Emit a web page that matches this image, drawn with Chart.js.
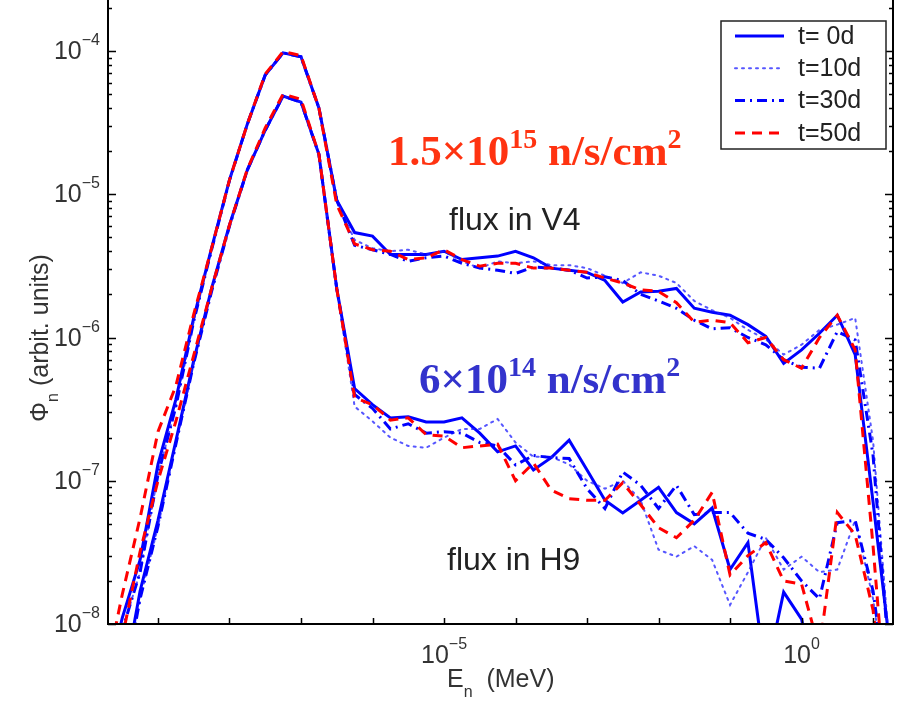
<!DOCTYPE html>
<html>
<head>
<meta charset="utf-8">
<script src="https://cdn.jsdelivr.net/npm/chart.js@4.4.1/dist/chart.umd.min.js"></script>
<style>
  html, body { margin: 0; padding: 0; background: #fff; }
</style>
</head>
<body>
<canvas id="flux" width="899" height="701"></canvas>
<script>
// neutron energy bins (MeV), quarter-decade grid
const energies = [
  1.78e-10, 3.16e-10, 5.62e-10, 1e-9, 1.78e-9, 3.16e-9, 5.62e-9, 1e-8, 1.78e-8,
  3.16e-8, 5.62e-8, 1e-7, 1.78e-7, 3.16e-7, 5.62e-7, 1e-6, 1.78e-6, 3.16e-6,
  5.62e-6, 1e-5, 1.78e-5, 3.16e-5, 5.62e-5, 1e-4, 1.78e-4, 3.16e-4, 5.62e-4,
  1e-3, 1.78e-3, 3.16e-3, 5.62e-3, 1e-2, 1.78e-2, 3.16e-2, 5.62e-2, 0.1, 0.178,
  0.316, 0.562, 1, 1.78, 3.16, 5.62, 10, 17.8
];

// flux in V4
const v4T0 = [
  3.2e-9, 1.1e-8, 2.8e-8, 1.3e-7, 3.7e-7, 1.37e-6, 4.2e-6, 1.26e-5, 3.1e-5,
  6.8e-5, 9.7e-5, 9.1e-5, 4.0e-5, 9.1e-6, 5.4e-6, 5.1e-6, 3.8e-6, 3.8e-6,
  3.8e-6, 4.0e-6, 3.5e-6, 3.6e-6, 3.7e-6, 4.0e-6, 3.6e-6, 3.05e-6, 2.95e-6,
  2.85e-6, 2.5e-6, 1.77e-6, 2.08e-6, 2.1e-6, 2.2e-6, 1.6e-6, 1.5e-6, 1.43e-6,
  1.23e-6, 1.02e-6, 6.6e-7, 8.2e-7, 1.07e-6, 1.43e-6, 7.6e-7, 7.1e-8, 6e-9
];
const v4T10 = [
  3.0e-9, 9e-9, 2.3e-8, 1.1e-7, 3.3e-7, 1.3e-6, 4.1e-6, 1.25e-5, 3.1e-5,
  6.8e-5, 9.7e-5, 9.1e-5, 4.0e-5, 9.1e-6, 4.8e-6, 4.2e-6, 4.0e-6, 4.1e-6,
  3.8e-6, 4.0e-6, 3.4e-6, 3.05e-6, 3.4e-6, 3.3e-6, 3.4e-6, 3.2e-6, 3.2e-6,
  3.05e-6, 2.7e-6, 2.4e-6, 2.85e-6, 2.7e-6, 2.4e-6, 1.8e-6, 1.55e-6, 1.37e-6,
  1.13e-6, 9.7e-7, 7.6e-7, 8.9e-7, 1.13e-6, 1.23e-6, 1.37e-6, 1.9e-7, 5e-9
];
const v4T30 = [
  3.0e-9, 9e-9, 2.3e-8, 1.1e-7, 3.3e-7, 1.3e-6, 4.1e-6, 1.25e-5, 3.1e-5,
  6.8e-5, 9.7e-5, 9.1e-5, 4.0e-5, 9.1e-6, 4.4e-6, 4.1e-6, 3.8e-6, 3.4e-6,
  3.6e-6, 3.7e-6, 3.3e-6, 3.05e-6, 2.95e-6, 2.8e-6, 3.1e-6, 3.05e-6, 2.95e-6,
  2.6e-6, 2.65e-6, 2.5e-6, 2.0e-6, 1.8e-6, 1.6e-6, 1.32e-6, 1.15e-6, 1.17e-6,
  1.0e-6, 8.9e-7, 7.0e-7, 6.2e-7, 6.1e-7, 1.1e-6, 9.6e-7, 1.5e-7, 4e-9
];
const v4T50 = [
  4e-9, 1.6e-8, 5.5e-8, 2.2e-7, 4.6e-7, 1.45e-6, 4.2e-6, 1.26e-5, 3.1e-5,
  6.9e-5, 9.9e-5, 9.3e-5, 4.0e-5, 8.5e-6, 4.5e-6, 4.1e-6, 4.0e-6, 3.5e-6,
  3.6e-6, 4.1e-6, 3.5e-6, 3.15e-6, 3.3e-6, 3.3e-6, 3.05e-6, 3.05e-6, 2.95e-6,
  2.85e-6, 2.6e-6, 2.4e-6, 2.15e-6, 2.1e-6, 1.75e-6, 1.28e-6, 1.32e-6, 1.27e-6,
  9.2e-7, 1.0e-6, 7.0e-7, 6.1e-7, 1.0e-6, 1.43e-6, 8.2e-7, 3.5e-8, 1e-9
];

// flux in H9
const h9T0 = [
  1.5e-9, 3.5e-9, 1.7e-8, 5.3e-8, 1.9e-7, 6.9e-7, 2.2e-6, 6.1e-6, 1.48e-5,
  2.8e-5, 4.85e-5, 4.4e-5, 1.9e-5, 2.2e-6, 4.4e-7, 3.4e-7, 2.74e-7, 2.8e-7,
  2.57e-7, 2.57e-7, 2.75e-7, 2.15e-7, 1.59e-7, 1.75e-7, 1.19e-7, 1.45e-7,
  1.92e-7, 1.19e-7, 7.3e-8, 5.96e-8, 7.3e-8, 9.0e-8, 6.0e-8, 5.0e-8, 6.45e-8,
  2.4e-8, 3.7e-8, 4.3e-9, 1.67e-8, 1.08e-8, 3e-9, 3e-9, 3e-9, 3e-9, 3e-9
];
const h9T10 = [
  1.4e-9, 3.2e-9, 1.5e-8, 4.8e-8, 1.8e-7, 6.6e-7, 2.1e-6, 6.0e-6, 1.48e-5,
  2.8e-5, 4.85e-5, 4.4e-5, 1.9e-5, 2.2e-6, 3.3e-7, 2.6e-7, 2.0e-7, 1.75e-7,
  1.7e-7, 2.0e-7, 2.3e-7, 2.3e-7, 2.7e-7, 1.85e-7, 1.47e-7, 1.47e-7, 1.3e-7,
  1.0e-7, 8.8e-8, 1.0e-7, 7.3e-8, 3.3e-8, 2.95e-8, 3.5e-8, 2.8e-8, 1.36e-8,
  2.3e-8, 4.0e-8, 2.4e-8, 2.95e-8, 2.3e-8, 2.4e-8, 5.3e-8, 1.5e-8, 2e-9
];
const h9T30 = [
  1.4e-9, 3.2e-9, 1.5e-8, 4.8e-8, 1.8e-7, 6.6e-7, 2.1e-6, 6.0e-6, 1.48e-5,
  2.8e-5, 4.85e-5, 4.4e-5, 1.9e-5, 2.2e-6, 4.0e-7, 3.2e-7, 2.3e-7, 2.5e-7,
  2.15e-7, 2.2e-7, 2.15e-7, 1.85e-7, 1.75e-7, 1.29e-7, 1.5e-7, 1.45e-7, 1.43e-7,
  8.8e-8, 6.4e-8, 1.15e-7, 9.3e-8, 6.4e-8, 9.3e-8, 5.8e-8, 6.0e-8, 6.0e-8,
  4.3e-8, 3.9e-8, 2.9e-8, 2.0e-8, 1.5e-8, 5.1e-8, 5.3e-8, 1.7e-8, 2e-9
];
const h9T50 = [
  2e-9, 8e-9, 3.2e-8, 1.0e-7, 2.6e-7, 7.5e-7, 2.2e-6, 6.1e-6, 1.5e-5,
  2.9e-5, 5.0e-5, 4.6e-5, 1.9e-5, 2.2e-6, 3.8e-7, 3.4e-7, 2.65e-7, 2.75e-7,
  2.1e-7, 2.05e-7, 1.7e-7, 1.75e-7, 1.8e-7, 1.0e-7, 1.33e-7, 8.6e-8, 7.5e-8,
  7.3e-8, 7.3e-8, 9.7e-8, 6.8e-8, 4.7e-8, 4.0e-8, 5.3e-8, 8.3e-8, 2.2e-8,
  3.0e-8, 3.7e-8, 2.0e-8, 1.9e-8, 6.6e-9, 6.0e-8, 4.2e-8, 1.25e-8, 1e-9
];

const seriesLabels = ["t= 0d", "t=10d", "t=30d", "t=50d"];
const yTickExps = [-4, -5, -6, -7, -8];
const xTickExps = [-5, 0];

const BLUE = "#0000ff";
const RED = "#ff0000";
const lineStyles = [
  { color: BLUE, width: 3, dash: [], order: 3 },
  { color: "rgba(30,30,255,0.75)", width: 2, dash: [2, 5], order: 2 },
  { color: BLUE, width: 3, dash: [10, 5, 2, 5], order: 1 },
  { color: RED, width: 3, dash: [10, 7], order: 0 },
];

const toPoints = (vals) => energies.map((e, i) => ({ x: e, y: vals[i] }));

const makeDataset = (label, vals, k) => ({
  label: label,
  data: toPoints(vals),
  borderColor: lineStyles[k].color,
  borderWidth: lineStyles[k].width,
  borderDash: lineStyles[k].dash,
  borderCapStyle: k === 1 ? "round" : "butt",
  pointRadius: 0,
  tension: 0,
  fill: false,
  order: lineStyles[k].order,
});

const datasets = [
  makeDataset(seriesLabels[0], v4T0, 0),
  makeDataset(seriesLabels[1], v4T10, 1),
  makeDataset(seriesLabels[2], v4T30, 2),
  makeDataset(seriesLabels[3], v4T50, 3),
  makeDataset(seriesLabels[0] + " H9", h9T0, 0),
  makeDataset(seriesLabels[1] + " H9", h9T10, 1),
  makeDataset(seriesLabels[2] + " H9", h9T30, 2),
  makeDataset(seriesLabels[3] + " H9", h9T50, 3),
];

// text with super/subscripts, returns width
const richText = (ctx, parts, x, y, opt, draw) => {
  let cx = x;
  parts.forEach((p) => {
    const size = p.sup || p.sub ? opt.small : opt.size;
    ctx.font = `${opt.weight || "normal"} ${size}px ${opt.family}`;
    const dy = p.sup ? -opt.supShift : p.sub ? opt.subShift : 0;
    if (draw) ctx.fillText(p.t, cx, y + dy);
    cx += ctx.measureText(p.t).width;
  });
  return cx - x;
};

const SANS = "'Liberation Sans', Arial, sans-serif";
const SERIF = "'Liberation Serif', 'Times New Roman', serif";

const decorations = {
  id: "decorations",
  afterDatasetsDraw(chart) {
    const { ctx, chartArea: a, scales } = chart;
    const xs = scales.x;
    const ys = scales.y;
    ctx.save();
    ctx.strokeStyle = "#000";
    ctx.lineWidth = 2;
    ctx.beginPath();
    ctx.moveTo(a.left, a.top - 2);
    ctx.lineTo(a.left, a.bottom);
    ctx.lineTo(a.right, a.bottom);
    ctx.lineTo(a.right, a.top - 2);
    ctx.stroke();

    // inward ticks
    ctx.lineWidth = 1.5;
    ctx.beginPath();
    for (let e = -9; e <= -3; e++) {
      for (let m = 1; m < 10; m++) {
        const v = m * Math.pow(10, e);
        if (v < ys.min || v > ys.max) continue;
        const py = Math.round(ys.getPixelForValue(v)) + 0.5;
        const len = m === 1 ? 8 : 4;
        ctx.moveTo(a.left, py);
        ctx.lineTo(a.left + len, py);
        ctx.moveTo(a.right, py);
        ctx.lineTo(a.right - len, py);
      }
    }
    for (let e = -9; e <= 1; e++) {
      const px = Math.round(xs.getPixelForValue(Math.pow(10, e))) + 0.5;
      ctx.moveTo(px, a.bottom);
      ctx.lineTo(px, a.bottom - 6);
    }
    ctx.stroke();

    // tick labels
    ctx.fillStyle = "#333";
    ctx.textAlign = "left";
    ctx.textBaseline = "alphabetic";
    const tickOpt = { size: 25, small: 16, supShift: 14, family: SANS };
    yTickExps.forEach((e) => {
      const py = ys.getPixelForValue(Math.pow(10, e));
      const parts = [{ t: "10" }, { t: "\u2212" + Math.abs(e), sup: true }];
      const w = richText(ctx, parts, 0, 0, tickOpt, false);
      richText(ctx, parts, 100 - w, py + 8, tickOpt, true);
    });
    xTickExps.forEach((e) => {
      const px = xs.getPixelForValue(Math.pow(10, e));
      const exp = e < 0 ? "\u2212" + Math.abs(e) : String(e);
      const parts = [{ t: "10" }, { t: exp, sup: true }];
      const w = richText(ctx, parts, 0, 0, tickOpt, false);
      richText(ctx, parts, px - w / 2, 663, tickOpt, true);
    });

    // axis titles
    const titleOpt = { size: 25, small: 16, subShift: 10, family: SANS };
    richText(ctx, [{ t: "E" }, { t: "n", sub: true }, { t: "  (MeV)" }], 447, 687, titleOpt, true);
    const yParts = [{ t: "\u03a6" }, { t: "n", sub: true }, { t: " (arbit. units)" }];
    const yw = richText(ctx, yParts, 0, 0, titleOpt, false);
    ctx.save();
    ctx.translate(48, 338);
    ctx.rotate(-Math.PI / 2);
    richText(ctx, yParts, -yw / 2, 0, titleOpt, true);
    ctx.restore();

    // annotations
    ctx.fillStyle = "#ff3311";
    const bigOpt = { size: 43, small: 28, supShift: 17, family: SERIF, weight: "bold" };
    richText(ctx, [{ t: "1.5\u00d710" }, { t: "15", sup: true }, { t: " n/s/cm" }, { t: "2", sup: true }], 388, 165, bigOpt, true);
    ctx.fillStyle = "#3333cc";
    richText(ctx, [{ t: "6\u00d710" }, { t: "14", sup: true }, { t: " n/s/cm" }, { t: "2", sup: true }], 419, 393, bigOpt, true);
    ctx.fillStyle = "#222";
    ctx.font = `32px ${SANS}`;
    ctx.fillText("flux in V4", 449, 230);
    ctx.fillText("flux in H9", 447, 570);

    // legend
    const box = { left: 721, top: 21, right: 886, bottom: 149 };
    ctx.fillStyle = "#fff";
    ctx.fillRect(box.left, box.top, box.right - box.left, box.bottom - box.top);
    ctx.strokeStyle = "#222";
    ctx.lineWidth = 1.5;
    ctx.strokeRect(box.left, box.top, box.right - box.left, box.bottom - box.top);
    ctx.font = `25px ${SANS}`;
    ctx.textBaseline = "middle";
    seriesLabels.forEach((lab, k) => {
      const ds = chart.data.datasets[k];
      const ry = 36 + k * 32.3;
      ctx.save();
      ctx.strokeStyle = ds.borderColor;
      ctx.lineWidth = ds.borderWidth;
      ctx.lineCap = ds.borderCapStyle;
      ctx.setLineDash(ds.borderDash);
      ctx.beginPath();
      ctx.moveTo(735, ry);
      ctx.lineTo(784, ry);
      ctx.stroke();
      ctx.restore();
      ctx.fillStyle = "#222";
      ctx.fillText(lab, 798, ry + 1);
    });
    ctx.restore();
  },
};

new Chart(document.getElementById("flux"), {
  type: "line",
  data: { datasets: datasets },
  options: {
    responsive: false,
    animation: false,
    devicePixelRatio: 1,
    layout: { padding: { left: 108, right: 6, top: 0, bottom: 77 } },
    plugins: { legend: { display: false }, tooltip: { enabled: false } },
    scales: {
      x: { type: "logarithmic", display: false, min: 2e-10, max: 19 },
      y: { type: "logarithmic", display: false, min: 1e-8, max: 2.27e-4 },
    },
  },
  plugins: [decorations],
});
</script>
</body>
</html>
